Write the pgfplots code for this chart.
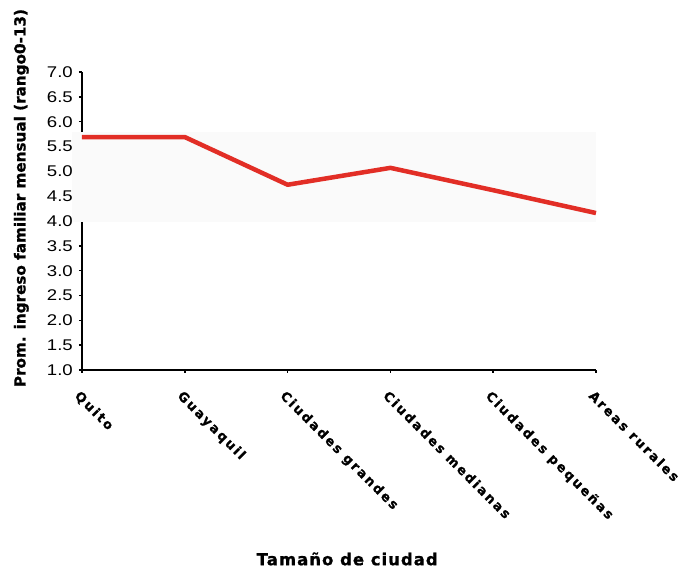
\documentclass[border=0pt]{standalone}
\usepackage{pgfplots}
\pgfplotsset{compat=1.18}
\usepackage{fontspec}
\setmainfont{Liberation Sans}
\newfontfamily\heavy[BoldFeatures={FakeBold=1}]{DejaVu Sans}
\newfontfamily\heavyx[LetterSpace=6,BoldFeatures={FakeBold=1}]{DejaVu Sans}
\newfontfamily\spaced[LetterSpace=16,BoldFeatures={FakeBold=1}]{DejaVu Sans}
\newfontfamily\tickfont[FakeStretch=1.2]{Liberation Sans}
\definecolor{linered}{RGB}{226,46,38}
\begin{document}
\begin{tikzpicture}
\begin{axis}[
  at={(0,0)}, anchor=south west,
  scale only axis, width=514bp, height=298bp,
  xmin=0, xmax=5, ymin=1, ymax=7,
  axis x line=bottom, axis y line=left,
  axis line style={-, line width=1.2pt},
  xtick={0,1,2,3,4,5},
  xticklabels={Quito,Guayaquil,Ciudades grandes,Ciudades medianas,Ciudades pequeñas,Areas rurales},
  xticklabel style={font=\spaced\bfseries\fontsize{13bp}{14bp}\selectfont, xshift=-1bp, yshift=-15bp, rotate=-45, anchor=north west, inner sep=1pt},
  ytick={1,1.5,...,7},
  yticklabel style={/pgf/number format/fixed, /pgf/number format/fixed zerofill, /pgf/number format/precision=1, font=\tickfont\fontsize{15.5bp}{16bp}\selectfont, inner sep=1pt, xshift=-5bp},
  /pgf/number format/assume math mode=true,
  tick align=outside, major tick length=3bp,
  tick style={line width=1.5pt, black},
  ylabel={Prom. ingreso familiar mensual (rango0-13)},
  ylabel style={font=\heavy\bfseries\fontsize{15.2bp}{16bp}\selectfont, at={(axis description cs:-0.118,0.577)}, anchor=center},
  xlabel={Tamaño de ciudad},
  xlabel style={font=\heavyx\bfseries\fontsize{16.5bp}{16bp}\selectfont, at={(axis description cs:0.516,-0.634)}, anchor=center},
  clip=false,
]
\fill[black!2] (axis cs:-0.1,3.98) rectangle (axis cs:5,5.8);
\addplot[linered, line width=4.5bp, line join=round] coordinates {
(0,5.69) (1,5.69) (2,4.73) (3,5.07) (4,4.62) (5,4.16)};
\end{axis}
\path[use as bounding box] (-82bp,-197bp) rectangle (607bp,370bp);
\end{tikzpicture}
\end{document}
